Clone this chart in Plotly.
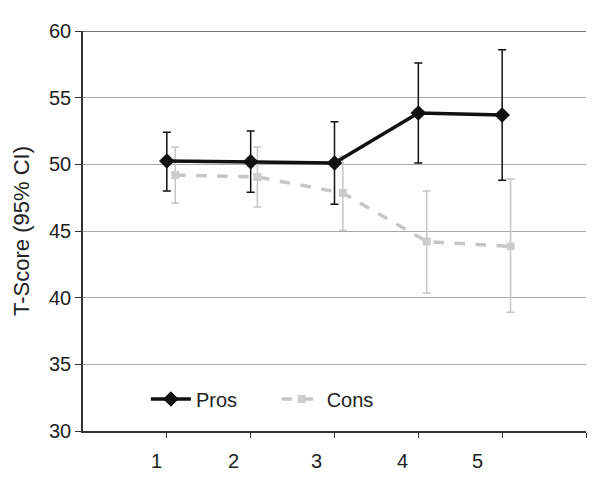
import plotly.graph_objects as go

time_points = [1, 2, 3, 4, 5]
cons_x = [1.1, 2.08, 3.1, 4.1, 5.1]
tick_labels = ["1", "2", "3", "4", "5"]
label_pos = [0.88, 1.79, 2.79, 3.81, 4.71]

pros_mean = [50.25, 50.2, 50.1, 53.85, 53.7]
pros_upper = [52.4, 52.5, 53.2, 57.6, 58.6]
pros_lower = [48.0, 47.9, 47.0, 50.1, 48.8]

cons_mean = [49.2, 49.05, 47.85, 44.2, 43.85]
cons_upper = [51.3, 51.3, 50.6, 48.0, 48.9]
cons_lower = [47.1, 46.8, 45.05, 40.35, 38.9]

fig = go.Figure()

fig.add_trace(go.Scatter(
    x=cons_x, y=cons_mean, name="Cons", mode="lines+markers", legend="legend2",
    line=dict(color="#c6c6c6", width=3.5, dash="dash"),
    marker=dict(symbol="square", size=8, color="#cdcdcd"),
    error_y=dict(type="data", symmetric=False,
                 array=[u - m for u, m in zip(cons_upper, cons_mean)],
                 arrayminus=[m - l for m, l in zip(cons_mean, cons_lower)],
                 color="#c6c6c6", thickness=1.5, width=4),
))
fig.add_trace(go.Scatter(
    x=time_points, y=pros_mean, name="Pros", mode="lines+markers", legend="legend",
    line=dict(color="#111111", width=3.5),
    marker=dict(symbol="diamond", size=12, color="#111111"),
    error_y=dict(type="data", symmetric=False,
                 array=[u - m for u, m in zip(pros_upper, pros_mean)],
                 arrayminus=[m - l for m, l in zip(pros_mean, pros_lower)],
                 color="#111111", thickness=1.5, width=4),
))

for xp, t in zip(label_pos, tick_labels):
    fig.add_annotation(x=xp, y=0, xref="x", yref="paper", yshift=-30,
                       yanchor="middle", xanchor="center",
                       text=t, showarrow=False,
                       font=dict(size=20, color="#222222"))

legend_common = dict(orientation="h", y=0.08, xanchor="left", yanchor="middle",
                     bgcolor="rgba(0,0,0,0)", font=dict(size=20), itemwidth=40)

fig.update_layout(
    width=593, height=476,
    margin=dict(l=75, r=15, t=13, b=53),
    paper_bgcolor="white", plot_bgcolor="white",
    font=dict(family="Liberation Sans, Arial, sans-serif", size=20, color="#222222"),
    showlegend=True,
    legend=dict(x=0.125, **legend_common),
    legend2=dict(x=0.385, **legend_common),
    xaxis=dict(range=[0, 6], tickvals=[1, 2, 3, 4, 5, 6], showticklabels=False,
               ticks="outside", ticklen=5, tickcolor="#333333",
               showline=True, linecolor="#333333", linewidth=1.5,
               showgrid=False, zeroline=False),
    yaxis=dict(range=[30, 60], tickvals=[30, 35, 40, 45, 50, 55, 60],
               ticks="outside", ticklen=6, tickcolor="#333333",
               showline=True, linecolor="#333333", linewidth=1.5,
               showgrid=True, gridcolor="#a8a8a8", gridwidth=1.2,
               zeroline=False, tickfont=dict(size=20),
               title=dict(text="T-Score (95% CI)", font=dict(size=22), standoff=13)),
)
fig.add_shape(type="line", xref="paper", yref="y", x0=0, x1=1, y0=60, y1=60,
              line=dict(color="#444444", width=1.5))

fig.write_html("out.html")
